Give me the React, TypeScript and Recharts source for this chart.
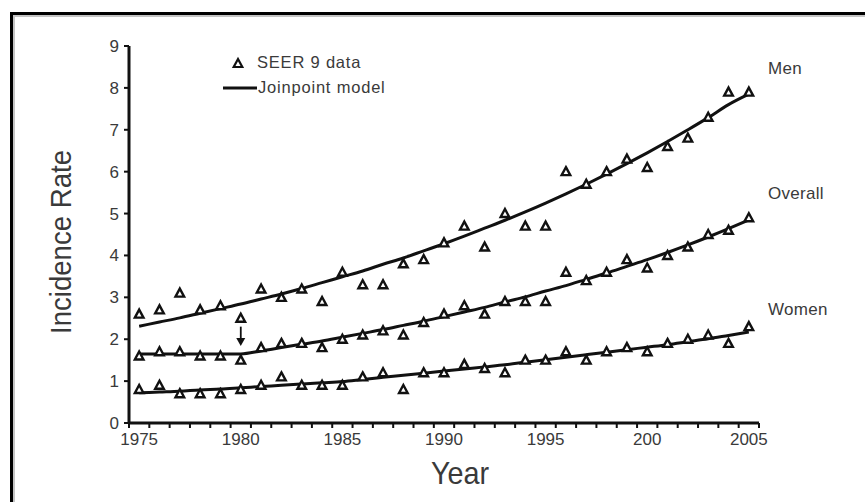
import {
  ComposedChart,
  Scatter,
  Line,
  XAxis,
  YAxis,
  ReferenceLine,
} from "recharts";

// yearly observed rates (SEER 9) and joinpoint model fits
const years = [
  1975, 1976, 1977, 1978, 1979, 1980, 1981, 1982, 1983, 1984, 1985, 1986,
  1987, 1988, 1989, 1990, 1991, 1992, 1993, 1994, 1995, 1996, 1997, 1998,
  1999, 2000, 2001, 2002, 2003, 2004, 2005,
];

const menRates = [
  2.6, 2.7, 3.1, 2.7, 2.8, 2.5, 3.2, 3.0, 3.2, 2.9, 3.6, 3.3, 3.3, 3.8, 3.9,
  4.3, 4.7, 4.2, 5.0, 4.7, 4.7, 6.0, 5.7, 6.0, 6.3, 6.1, 6.6, 6.8, 7.3, 7.9,
  7.9,
];

const overallRates = [
  1.6, 1.7, 1.7, 1.6, 1.6, 1.5, 1.8, 1.9, 1.9, 1.8, 2.0, 2.1, 2.2, 2.1, 2.4,
  2.6, 2.8, 2.6, 2.9, 2.9, 2.9, 3.6, 3.4, 3.6, 3.9, 3.7, 4.0, 4.2, 4.5, 4.6,
  4.9,
];

const womenRates = [
  0.8, 0.9, 0.7, 0.7, 0.7, 0.8, 0.9, 1.1, 0.9, 0.9, 0.9, 1.1, 1.2, 0.8, 1.2,
  1.2, 1.4, 1.3, 1.2, 1.5, 1.5, 1.7, 1.5, 1.7, 1.8, 1.7, 1.9, 2.0, 2.1, 1.9,
  2.3,
];

const menModel = [
  2.31, 2.41, 2.51, 2.62, 2.73, 2.84, 2.96, 3.08, 3.21, 3.35, 3.49, 3.63,
  3.79, 3.94, 4.11, 4.28, 4.46, 4.65, 4.84, 5.04, 5.25, 5.47, 5.7, 5.94, 6.19,
  6.45, 6.72, 7.0, 7.29, 7.6, 7.85,
];

const overallModel = [
  1.65, 1.65, 1.65, 1.65, 1.65, 1.65, 1.72, 1.8, 1.88, 1.96, 2.05, 2.14,
  2.23, 2.33, 2.43, 2.54, 2.65, 2.76, 2.89, 3.01, 3.15, 3.28, 3.43, 3.58,
  3.74, 3.9, 4.07, 4.25, 4.44, 4.64, 4.85,
];

const womenModel = [
  0.72, 0.74, 0.76, 0.79, 0.81, 0.84, 0.87, 0.9, 0.93, 0.96, 0.99, 1.04,
  1.09, 1.14, 1.19, 1.24, 1.29, 1.34, 1.39, 1.45, 1.51, 1.57, 1.63, 1.69,
  1.75, 1.81, 1.87, 1.94, 2.01, 2.09, 2.17,
];

const yTicks = [0, 1, 2, 3, 4, 5, 6, 7, 8, 9];
const yearLabels: Record<number, string> = {
  1975: "1975",
  1980: "1980",
  1985: "1985",
  1990: "1990",
  1995: "1995",
  2000: "200",
  2005: "2005",
};

const rows = years.map((year, i) => ({
  year,
  men: menRates[i],
  overall: overallRates[i],
  women: womenRates[i],
  menFit: menModel[i],
  overallFit: overallModel[i],
  womenFit: womenModel[i],
}));

// tick marks sit between the yearly categories
const boundaryTicks = [...years.map((y) => y - 0.5), years[years.length - 1] + 0.5];

const W = 865;
const H = 502;
const margin = { top: 46, right: 106, bottom: 10, left: 20 };
const yAxisWidth = 109;
const plotWidth = W - margin.left - margin.right - yAxisWidth;
const halfStep = plotWidth / years.length / 2;

const textColor = "#3a3a3a";
const font = '"Liberation Sans", Arial, sans-serif';

function YearTick(props: any) {
  const { x, y, payload } = props;
  const label = yearLabels[Math.round(payload.value + 0.5)];
  if (!label) return null;
  return (
    <text
      x={x + halfStep}
      y={y}
      dy="0.75em"
      textAnchor="middle"
      fill={textColor}
      fontSize={17}
      fontFamily={font}
    >
      {label}
    </text>
  );
}

function Triangle(props: any) {
  const { cx, cy } = props;
  if (cx == null || cy == null) return null;
  return (
    <path
      d={`M${cx},${cy - 4.5} L${cx + 4.3},${cy + 3.5} L${cx - 4.3},${cy + 3.5} Z`}
      fill="#fff"
      stroke="#111"
      strokeWidth={2.4}
    />
  );
}

function Arrow(props: any) {
  const { x1, y1, x2, y2 } = props;
  return (
    <g>
      <line x1={x1} y1={y1} x2={x2} y2={y2 - 4} stroke="#111" strokeWidth={1.8} />
      <path d={`M${x2 - 4.5},${y2 - 8} L${x2 + 4.5},${y2 - 8} L${x2},${y2} Z`} fill="#111" />
    </g>
  );
}

const seriesLabel = (top: number): React.CSSProperties => ({
  position: "absolute",
  left: 768,
  top,
  fontSize: 17,
  fontFamily: font,
  color: textColor,
  letterSpacing: 0.3,
});

export default function App() {
  return (
    <div
      style={{
        position: "absolute",
        left: 0,
        top: 0,
        width: W,
        height: H,
        background: "#fff",
        overflow: "hidden",
        fontFamily: font,
      }}
    >
      <div
        style={{
          position: "absolute",
          left: 10,
          top: 12,
          width: 900,
          height: 540,
          border: "3px solid #000",
          boxShadow: "inset 2px 2px 0 #c4c4c4",
        }}
      />
      <div style={{ position: "absolute", left: 0, top: 0 }}>
        <ComposedChart width={W} height={H} data={rows} margin={margin}>
          <XAxis
            dataKey="year"
            type="number"
            domain={[boundaryTicks[0], boundaryTicks[boundaryTicks.length - 1]]}
            ticks={boundaryTicks}
            interval={0}
            height={69}
            axisLine={{ stroke: "#111", strokeWidth: 3 }}
            tickLine={{ stroke: "#111", strokeWidth: 2 }}
            tickSize={5}
            tickMargin={4}
            tick={<YearTick />}
          />
          <YAxis
            type="number"
            domain={[0, 9]}
            ticks={yTicks}
            interval={0}
            width={yAxisWidth}
            axisLine={{ stroke: "#111", strokeWidth: 3 }}
            tickLine={{ stroke: "#111", strokeWidth: 2 }}
            tickSize={5}
            tickMargin={5}
            tick={{ fill: textColor, fontSize: 17, fontFamily: font }}
          />

          <Line dataKey="menFit" type="monotone" stroke="#111" strokeWidth={3} dot={false} isAnimationActive={false} />
          <Line dataKey="overallFit" type="monotone" stroke="#111" strokeWidth={3} dot={false} isAnimationActive={false} />
          <Line dataKey="womenFit" type="monotone" stroke="#111" strokeWidth={3} dot={false} isAnimationActive={false} />

          <Scatter dataKey="men" shape={<Triangle />} isAnimationActive={false} />
          <Scatter dataKey="overall" shape={<Triangle />} isAnimationActive={false} />
          <Scatter dataKey="women" shape={<Triangle />} isAnimationActive={false} />

          <ReferenceLine
            segment={[
              { x: 1980, y: 2.3 },
              { x: 1980, y: 1.84 },
            ]}
            shape={(p: any) => <Arrow {...p} />}
          />
        </ComposedChart>
      </div>

      {/* axis titles and legend */}
      <svg style={{ position: "absolute", left: 0, top: 0 }} width={W} height={H}>
        <text
          transform="translate(71,242) rotate(-90) scale(0.92,1)"
          textAnchor="middle"
          fontSize={30}
          fontFamily={font}
          fill={textColor}
        >
          Incidence Rate
        </text>
        <text
          transform="translate(460,484) scale(0.9,1)"
          textAnchor="middle"
          fontSize={32}
          fontFamily={font}
          fill={textColor}
        >
          Year
        </text>
        <path d="M238,59 L242.3,67 L233.7,67 Z" fill="#fff" stroke="#111" strokeWidth={2.2} />
        <line x1={223} y1={88} x2={257} y2={88} stroke="#111" strokeWidth={3.2} />
      </svg>
      <div style={{ position: "absolute", left: 257, top: 53, fontSize: 16.5, color: textColor, letterSpacing: 0.8 }}>
        SEER 9 data
      </div>
      <div style={{ position: "absolute", left: 258, top: 78, fontSize: 16.5, color: textColor, letterSpacing: 0.8 }}>
        Joinpoint model
      </div>

      <div style={seriesLabel(59)}>Men</div>
      <div style={seriesLabel(184)}>Overall</div>
      <div style={seriesLabel(300)}>Women</div>
    </div>
  );
}
